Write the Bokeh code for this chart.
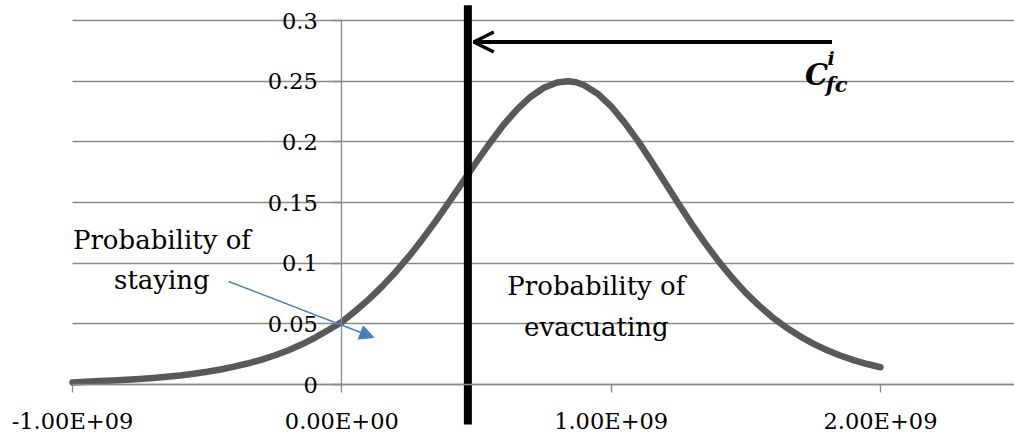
from bokeh.plotting import figure
from bokeh.models import (Range1d, LinearAxis, FixedTicker, CustomJSTickFormatter,
                          Arrow, OpenHead, NormalHead, Grid)
from bokeh.core.properties import value
from bokeh.embed import file_html
from bokeh.resources import INLINE

# ---- data ----
cost_x = [-1.0e9, -0.95e9, -0.9e9, -0.85e9, -0.8e9, -0.75e9, -0.7e9, -0.65e9, -0.6e9, -0.55e9,
          -0.5e9, -0.45e9, -0.4e9, -0.35e9, -0.3e9, -0.25e9, -0.2e9, -0.15e9, -0.1e9, -0.05e9,
          0.0, 0.05e9, 0.1e9, 0.15e9, 0.2e9, 0.25e9, 0.3e9, 0.35e9, 0.4e9, 0.45e9,
          0.5e9, 0.55e9, 0.6e9, 0.65e9, 0.7e9, 0.75e9, 0.8e9, 0.84e9, 0.87e9, 0.9e9,
          0.95e9, 1.0e9, 1.05e9, 1.1e9, 1.15e9, 1.2e9, 1.25e9, 1.3e9, 1.35e9, 1.4e9,
          1.45e9, 1.5e9, 1.55e9, 1.6e9, 1.65e9, 1.7e9, 1.75e9, 1.8e9, 1.85e9, 1.9e9,
          1.95e9, 2.0e9]
probability = [0.0017, 0.0023, 0.0028, 0.0033, 0.0039, 0.0046, 0.0054, 0.0064, 0.0075, 0.0089,
               0.0105, 0.0124, 0.0147, 0.0173, 0.0203, 0.0239, 0.0281, 0.0329, 0.0385, 0.0449,
               0.0515, 0.0606, 0.0702, 0.0809, 0.0928, 0.1058, 0.1200, 0.1351, 0.1510, 0.1672,
               0.1834, 0.1991, 0.2139, 0.2265, 0.2370, 0.2446, 0.2490, 0.2500, 0.2491, 0.2467,
               0.2397, 0.2293, 0.2159, 0.2006, 0.1838, 0.1664, 0.1490, 0.1320, 0.1161, 0.1013,
               0.0878, 0.0755, 0.0648, 0.0552, 0.0470, 0.0399, 0.0337, 0.0284, 0.0239, 0.0201,
               0.0169, 0.0142]

y_ticks = [0, 0.05, 0.1, 0.15, 0.2, 0.25, 0.3]
y_tick_labels = ["0", "0.05", "0.1", "0.15", "0.2", "0.25", "0.3"]
x_ticks = [-1e9, 0, 1e9, 2e9]
x_tick_labels = ["-1.00E+09", "0.00E+00", "1.00E+09", "2.00E+09"]
x_axis_span = (-1e9, 2.5e9)

threshold_x = 0.468e9          # C_fc^i threshold
threshold_y = [-0.033, 0.3125]

cfc_arrow_x = [1.82e9, 0.49e9]  # start, end
cfc_arrow_y = 0.2823

stay_arrow_x = [-0.42e9, 0.119e9]
stay_arrow_y = [0.0849, 0.0387]

stay_label = ["Probability of", "staying"]
stay_label_x = -0.668e9
stay_label_y = [0.1195, 0.0865]

evac_label = ["Probability of", "evacuating"]
evac_label_x = 0.945e9
evac_label_y = [0.0808, 0.0478]

cfc_main_x, cfc_main_y = 1.720e9, 0.2555
cfc_sup_x, cfc_sup_y = 1.803e9, 0.2690
cfc_sub_x, cfc_sub_y = 1.797e9, 0.2470

# ---- figure ----
GRID = "#8a8a8a"
FONT = "DejaVu Serif"

p = figure(width=1014, height=438,
           x_range=Range1d(-1.2673e9, 2.4976e9), y_range=Range1d(-0.0445, 0.3165),
           output_backend="svg", toolbar_location=None,
           x_axis_location=None, y_axis_location=None,
           min_border_left=0, min_border_right=0, min_border_top=0, min_border_bottom=0,
           outline_line_color=None, background_fill_color="white")
p.xgrid.visible = False
p.ygrid.visible = False

try:
    p.add_layout(Grid(dimension=1, ticker=FixedTicker(ticks=y_ticks), cross_bounds=x_axis_span,
                      grid_line_color=GRID, grid_line_width=1.3))
except Exception:
    p.segment(x0=[x_axis_span[0]] * len(y_ticks), x1=[x_axis_span[1]] * len(y_ticks),
              y0=y_ticks, y1=y_ticks, line_color=GRID, line_width=1.3)

fmt_code = "const i = tv.indexOf(tick); return i >= 0 ? lbl[i] : '';"

xaxis = LinearAxis(fixed_location=0, bounds=x_axis_span,
                   ticker=FixedTicker(ticks=x_ticks),
                   formatter=CustomJSTickFormatter(args=dict(tv=x_ticks, lbl=x_tick_labels), code=fmt_code),
                   axis_line_color=GRID, axis_line_width=1.3,
                   major_tick_line_color=GRID, major_tick_line_width=1.3,
                   major_tick_in=0, major_tick_out=8, minor_tick_in=0, minor_tick_out=0,
                   major_label_standoff=15,
                   major_label_text_font=FONT, major_label_text_font_size="22.5px",
                   major_label_text_color="black")
p.add_layout(xaxis, "below")

yaxis = LinearAxis(fixed_location=0, bounds=(0, 0.3),
                   ticker=FixedTicker(ticks=y_ticks),
                   formatter=CustomJSTickFormatter(args=dict(tv=y_ticks, lbl=y_tick_labels), code=fmt_code),
                   axis_line_color=GRID, axis_line_width=1.3,
                   major_tick_line_color=GRID, major_tick_line_width=1.3,
                   major_tick_in=0, major_tick_out=9, minor_tick_in=0, minor_tick_out=0,
                   major_label_standoff=15,
                   major_label_text_font=FONT, major_label_text_font_size="22.5px",
                   major_label_text_color="black")
p.add_layout(yaxis, "left")

# curve
p.line(cost_x, probability, line_color="#595959", line_width=6.5,
       line_cap="round", line_join="round")

# threshold line
p.segment(x0=[threshold_x], y0=[threshold_y[0]], x1=[threshold_x], y1=[threshold_y[1]],
          line_color="black", line_width=8)

# black arrow toward threshold
p.add_layout(Arrow(end=OpenHead(size=20, line_width=3.5, line_color="black"),
                   x_start=cfc_arrow_x[0], y_start=cfc_arrow_y,
                   x_end=cfc_arrow_x[1], y_end=cfc_arrow_y,
                   line_color="black", line_width=4))

# blue arrow
p.add_layout(Arrow(end=NormalHead(size=14, fill_color="#4a7ebb", line_color="#4a7ebb", line_width=1),
                   x_start=stay_arrow_x[0], y_start=stay_arrow_y[0],
                   x_end=stay_arrow_x[1], y_end=stay_arrow_y[1],
                   line_color="#4a7ebb", line_width=1.5))

# annotation texts
p.text(x=[stay_label_x] * 2, y=stay_label_y, text=stay_label,
       text_font=value(FONT), text_font_size=value("26px"), text_color="black",
       text_align="center", text_baseline="alphabetic")
p.text(x=[evac_label_x] * 2, y=evac_label_y, text=evac_label,
       text_font=value(FONT), text_font_size=value("26px"), text_color="black",
       text_align="center", text_baseline="alphabetic")

# C_fc^i label
p.text(x=[cfc_main_x], y=[cfc_main_y], text=["C"],
       text_font=value(FONT), text_font_size=value("29px"), text_font_style="bold italic",
       text_color="black", text_align="left", text_baseline="alphabetic")
p.text(x=[cfc_sup_x], y=[cfc_sup_y], text=["i"],
       text_font=value(FONT), text_font_size=value("19px"), text_font_style="bold italic",
       text_color="black", text_align="left", text_baseline="alphabetic")
p.text(x=[cfc_sub_x], y=[cfc_sub_y], text=["fc"],
       text_font=value(FONT), text_font_size=value("21px"), text_font_style="bold italic",
       text_color="black", text_align="left", text_baseline="alphabetic")

open("out.html", "w").write(file_html(p, INLINE))
